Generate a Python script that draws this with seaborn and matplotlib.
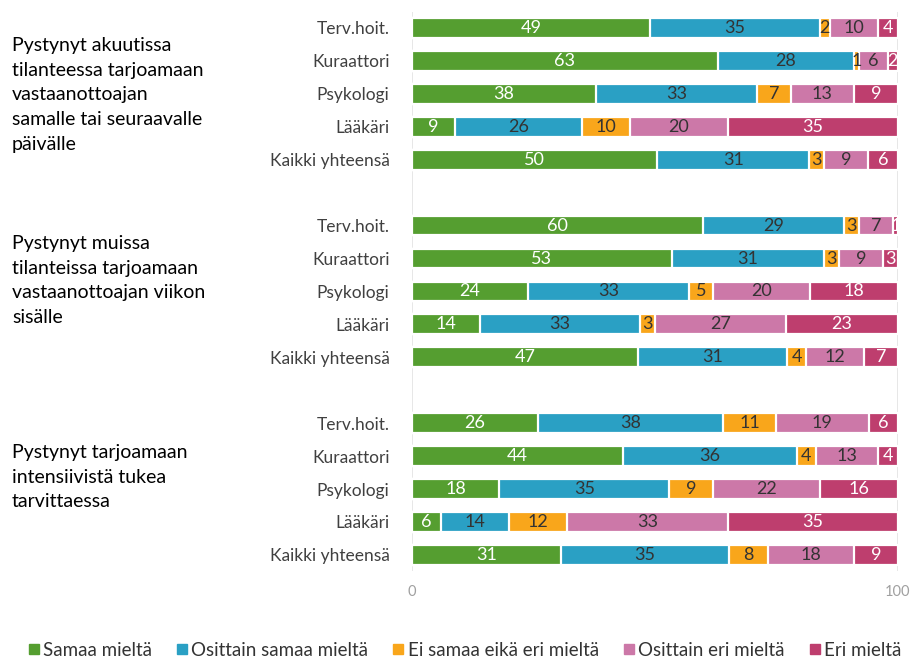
import numpy as np
import pandas as pd
import matplotlib
matplotlib.use("Agg")
import matplotlib.pyplot as plt
import seaborn as sns
from matplotlib.transforms import blended_transform_factory

# Data (percentages)
groups = [
    "Pystynyt akuutissa\ntilanteessa tarjoamaan\nvastaanottoajan\nsamalle tai seuraavalle\npäivälle",
    "Pystynyt muissa\ntilanteissa tarjoamaan\nvastaanottoajan viikon\nsisälle",
    "Pystynyt tarjoamaan\nintensiivistä tukea\ntarvittaessa",
]
professions = ["Terv.hoit.", "Kuraattori", "Psykologi", "Lääkäri", "Kaikki yhteensä"]
answers = ["Samaa mieltä", "Osittain samaa mieltä", "Ei samaa eikä eri mieltä",
           "Osittain eri mieltä", "Eri mieltä"]

samaa = [49, 63, 38, 9, 50, 60, 53, 24, 14, 47, 26, 44, 18, 6, 31]
osittain_samaa = [35, 28, 33, 26, 31, 29, 31, 33, 33, 31, 38, 36, 35, 14, 35]
ei_samaa_eika_eri = [2, 1, 7, 10, 3, 3, 3, 5, 3, 4, 11, 4, 9, 12, 8]
osittain_eri = [10, 6, 13, 20, 9, 7, 9, 20, 27, 12, 19, 13, 22, 33, 18]
eri = [4, 2, 9, 35, 6, 1, 3, 18, 23, 7, 6, 4, 16, 35, 9]

colors = ["#559E30", "#2AA0C4", "#F9A61B", "#CC78A8", "#BE3E6E"]
label_colors = ["white", "#333333", "#333333", "#333333", "white"]

vals = np.array([samaa, osittain_samaa, ei_samaa_eika_eri, osittain_eri, eri], dtype=float)
shares = vals / vals.sum(axis=0) * 100  # 100 % stacked bars
cum = shares.cumsum(axis=0)

# row positions: 5 rows per group, one empty row between groups
pos = [g * 6 + i for g in range(3) for i in range(5)]
ylabels = professions * 3

sns.set_theme(style="white")
plt.rcParams["font.family"] = ["Lato", "DejaVu Sans"]

fig = plt.figure(figsize=(9.17, 6.59), dpi=100)
ax = fig.add_axes([0.449, 0.133, 0.530, 0.8495])

# draw cumulative bars from the last answer to the first so they stack
for k in range(4, -1, -1):
    df = pd.DataFrame({"pos": pos, "cum": cum[k]})
    sns.barplot(data=df, x="cum", y="pos", orient="y", native_scale=True,
                color=colors[k], width=0.6, edgecolor="white", linewidth=1.6,
                saturation=1, errorbar=None, ax=ax)

# value labels
for k in range(5):
    starts = cum[k] - shares[k]
    for j, p in enumerate(pos):
        ax.text(starts[j] + shares[k][j] / 2, p, f"{int(vals[k][j])}",
                ha="center", va="center", fontsize=13, color=label_colors[k])

ax.set_xlim(0, 100)
ax.set_ylim(16.5, -0.5)
ax.set_yticks(pos)
ax.set_yticklabels(ylabels, fontsize=12.5, color="#404040")
ax.set_xticks([0, 100])
ax.set_xticklabels(["0", "100"], fontsize=10.5, color="#A0A0A0")
ax.set_xlabel("")
ax.set_ylabel("")
ax.tick_params(axis="y", length=0, pad=16)
ax.tick_params(axis="x", length=0, pad=10)
for s in ax.spines.values():
    s.set_visible(False)
ax.grid(False)
for x in (0, 100):
    ax.axvline(x, color="#E3E3E3", lw=1.2, zorder=0)

# group labels on the left
tr = blended_transform_factory(fig.transFigure, ax.transData)
for ytxt, g in zip([2.03, 7.67, 13.64], groups):
    ax.text(0.013, ytxt, g, transform=tr, ha="left", va="center",
            fontsize=14, color="black", linespacing=1.55)

# legend
handles = [plt.Line2D([], [], marker="s", linestyle="none", markersize=7.5,
                      color=c) for c in colors]
fig.legend(handles, answers, loc="lower left", bbox_to_anchor=(0.008, -0.025),
           ncol=5, frameon=False, fontsize=13.5, handletextpad=0.0,
           columnspacing=1.1, handlelength=1.0, labelcolor="#333333")

fig.savefig("out.png", dpi=100)
